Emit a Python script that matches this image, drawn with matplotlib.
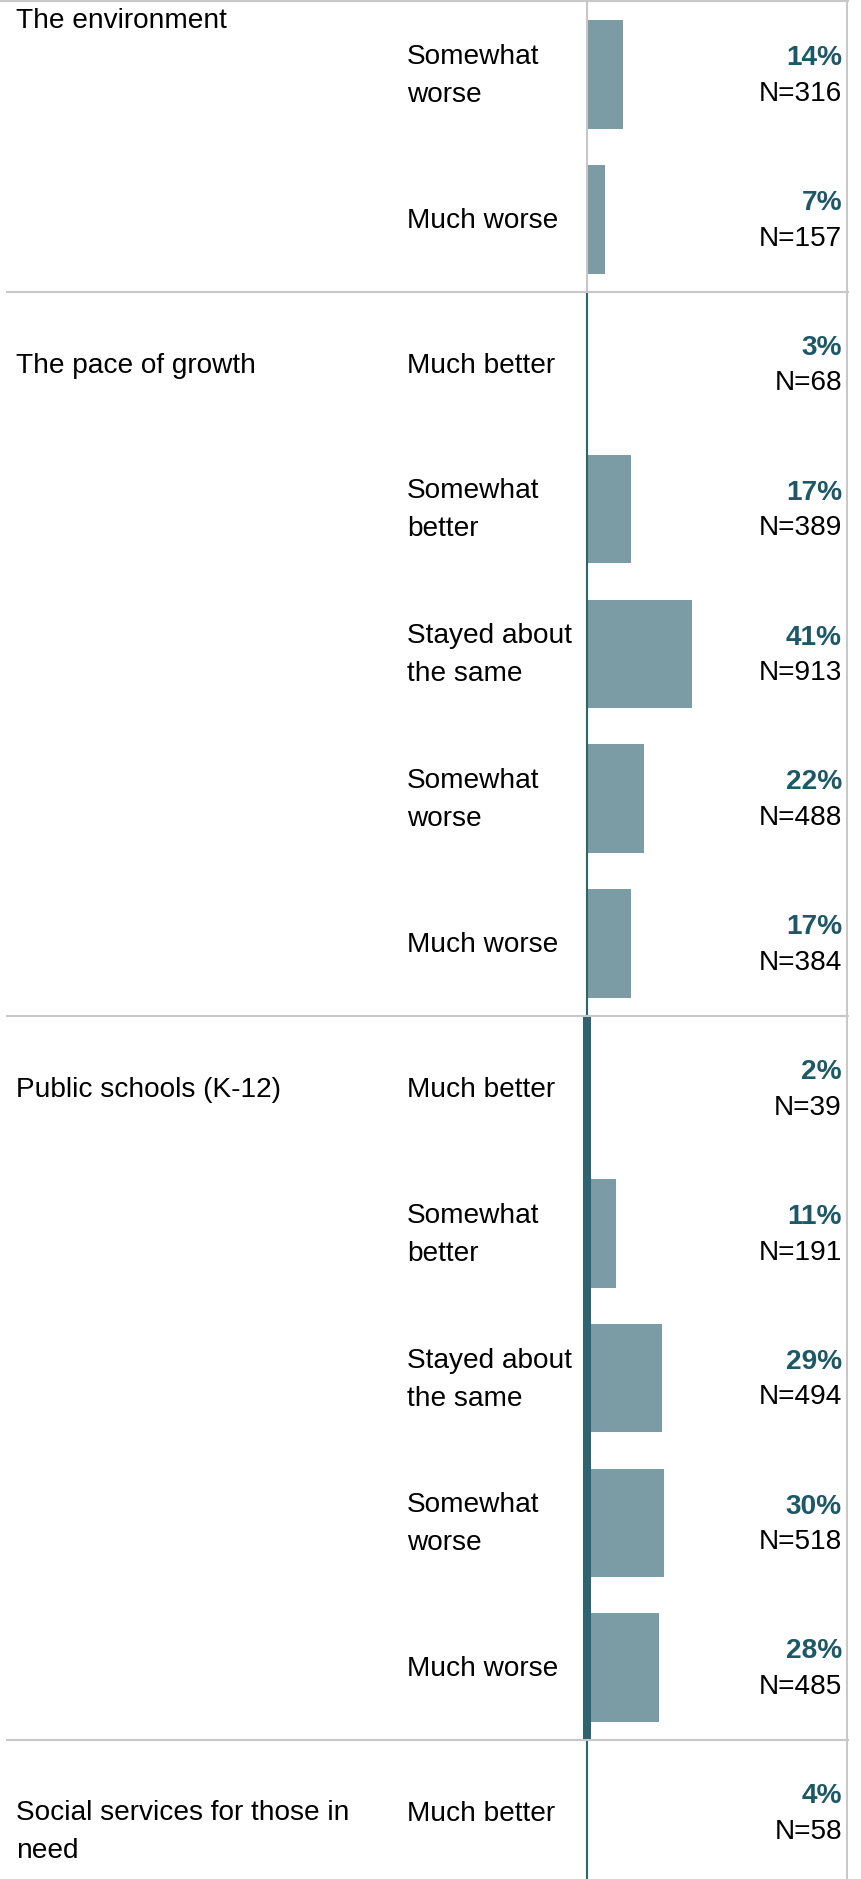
import matplotlib
matplotlib.use("Agg")
import matplotlib.pyplot as plt

plt.rcParams["font.family"] = ["Liberation Sans", "DejaVu Sans"]

# data
topics = ["The environment", "The pace of growth", "Public schools (K-12)",
          "Social services for those in\nneed"]
answers = [
    ["Somewhat\nworse", "Much worse"],
    ["Much better", "Somewhat\nbetter", "Stayed about\nthe same", "Somewhat\nworse", "Much worse"],
    ["Much better", "Somewhat\nbetter", "Stayed about\nthe same", "Somewhat\nworse", "Much worse"],
    ["Much better"],
]
percents = [
    [14, 7],
    [3, 17, 41, 22, 17],
    [2, 11, 29, 30, 28],
    [4],
]
counts = [
    [316, 157],
    [68, 389, 913, 488, 384],
    [39, 191, 494, 518, 485],
    [58],
]

# look
bar_color = "#7b9ca5"
dark = "#2d6470"
pct_color = "#1d5866"
grid_gray = "#c8c8c8"
axis_colors = [grid_gray, dark, dark, dark]
axis_widths = [1.5, 1.5, 5.8, 1.5]
fs = 20.2
lsp = 1.6

W, H = 862, 1879
zero_px = 587.5
px_per_pct = 2.56
top_px = 2.0
row_px = 144.85


def fx(px):
    return px / W


fig = plt.figure(figsize=(W / 100, H / 100), dpi=100)
ax = fig.add_axes([0, 0, 1, 1])
ax.set_xlim(-zero_px / px_per_pct, (W - zero_px) / px_per_pct)
ax.set_ylim((H - top_px) / row_px, -top_px / row_px)
ax.axis("off")

tr = ax.get_yaxis_transform()  # x in axes fraction, y in data
half_line = 17.8 / row_px
nudge = 1.5 / row_px  # text sits a touch below the row centre

y = 0
for t, topic in enumerate(topics):
    y0 = y
    for ans, p, n in zip(answers[t], percents[t], counts[t]):
        yc = y + 0.5
        ty = yc + nudge
        # the reference shows no light bar for the "Much better" rows
        if ans != "Much better":
            ax.barh(yc, p, height=0.75, left=0, color=bar_color, zorder=2)
        ax.text(fx(407), ty, ans, transform=tr, ha="left", va="center",
                fontsize=fs, linespacing=lsp, color="black")
        ax.text(fx(842), ty - half_line, "{}%".format(p), transform=tr,
                ha="right", va="center", fontsize=fs, fontweight="bold",
                color=pct_color)
        ax.text(fx(842), ty + half_line, "N={}".format(n), transform=tr,
                ha="right", va="center", fontsize=fs, color="black")
        y += 1

    # topic label: first section is cropped at the top
    nlines = topic.count("\n") + 1
    if t == 0:
        ly = 0.13
    else:
        ly = y0 + 0.5 + nudge + half_line * (nlines - 1)
    ax.text(fx(16), ly, topic, transform=tr, ha="left", va="center",
            fontsize=fs, linespacing=lsp, color="black")

    # zero line for the section
    ax.vlines(0, y0, y, color=axis_colors[t], linewidth=axis_widths[t],
              zorder=3, capstyle="butt")
    if t > 0:
        ax.axhline(y0, xmin=fx(7), xmax=fx(848), color=grid_gray,
                   linewidth=1.5, zorder=4)

# frame: top and right edges
ax.axhline(-1.0 / row_px, xmin=0, xmax=fx(848), color=grid_gray,
           linewidth=1.5, zorder=4)
ax.axvline((847 - zero_px) / px_per_pct, color=grid_gray, linewidth=1.5,
           zorder=4)

fig.savefig("out.png", dpi=100, facecolor="white")
